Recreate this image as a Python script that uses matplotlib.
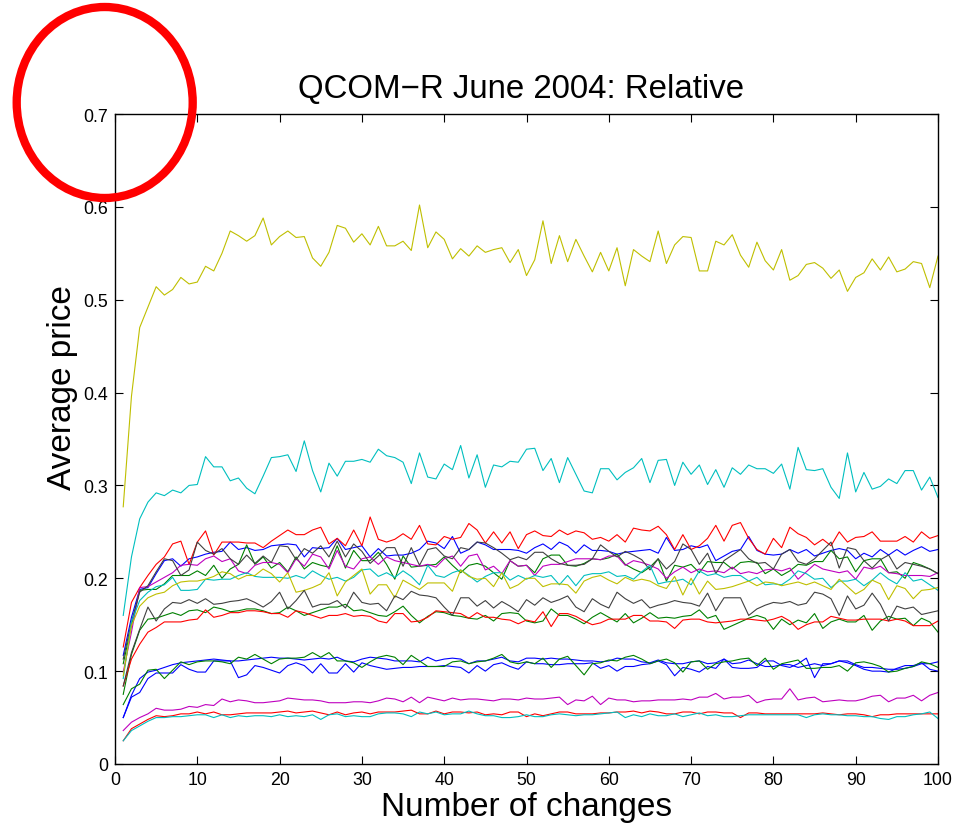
import numpy as np
import matplotlib
matplotlib.use("Agg")
import matplotlib.pyplot as plt
from matplotlib.patches import Ellipse

plt.rcParams['font.family'] = ['Liberation Sans', 'DejaVu Sans']

# values in thousandths, x = 1..100
blue1 = [117,158,188,190,205,219,221,213,221,223, 226,228,229,239,231,233,230,231,235,236,
         237,236,223,233,232,233,243,231,233,235, 223,232,224,225,225,227,231,240,238,232,
         245,227,231,239,236,231,231,231,230,227, 233,237,231,239,235,227,236,230,230,229,
         226,228,229,230,231,227,244,230,231,235, 233,236,219,224,229,231,245,230,226,225,
         226,231,227,231,224,227,230,232,230,221, 227,223,231,225,231,225,230,234,229,231]
green1 = [108,149,187,188,188,194,203,203,203,208, 203,214,200,210,215,236,215,223,211,217,
          207,223,210,217,214,212,235,211,230,219, 219,228,215,199,224,212,213,214,215,223,
          214,206,214,216,213,206,199,219,213,214, 206,221,225,225,214,213,216,221,220,222,
          226,215,210,206,212,221,197,214,212,215, 206,218,217,217,210,217,218,217,205,210,
          203,208,215,214,218,218,230,221,223,207, 219,221,221,206,207,200,217,214,210,205]
red1 = [126,174,190,203,215,223,237,240,215,239, 251,225,239,239,239,238,238,233,240,246,
        252,247,247,252,255,237,243,235,252,235, 266,242,239,242,248,242,257,237,236,245,
        242,244,259,252,238,250,238,250,232,247, 251,246,245,252,247,251,249,242,244,240,
        247,239,254,252,251,256,247,231,247,231, 235,243,257,240,257,260,243,231,226,243,
        233,255,248,244,236,242,235,250,239,244, 245,250,240,240,240,245,239,250,243,246]
cyan2 = [160,223,264,282,292,289,295,292,300,301, 331,320,320,305,308,297,291,310,330,331,
         333,315,348,316,293,324,310,326,326,328, 325,339,332,330,325,302,335,309,307,323,
         317,343,308,333,298,322,320,326,325,339, 340,316,329,303,330,312,294,292,318,318,
         306,314,319,329,303,327,328,300,325,312, 322,301,317,298,319,312,322,318,318,313,
         323,296,341,317,316,318,298,286,335,293, 314,296,299,307,302,316,316,295,309,287]
magenta1 = [99,142,190,191,196,201,206,214,215,214, 221,224,218,221,208,205,214,217,217,215,
            206,221,213,226,223,210,230,213,210,221, 223,215,223,219,217,215,213,215,212,221,
            224,213,224,226,209,213,205,219,213,214, 203,213,215,215,218,221,221,221,220,224,
            224,214,219,217,214,210,200,207,212,206, 210,207,208,206,212,205,207,205,209,210,
            208,211,199,207,215,210,208,206,208,199, 212,210,213,206,205,203,203,203,202,206]
yellow1 = [277,396,470,492,514,505,511,524,517,519, 536,531,550,574,569,563,569,588,559,568,
           574,567,568,545,536,551,580,577,562,571, 559,579,558,558,563,553,602,556,573,565,
           544,555,547,558,551,554,556,540,554,526, 543,585,539,569,541,565,547,530,551,531,
           556,515,554,547,541,574,539,559,568,567, 531,531,563,559,570,548,535,562,542,532,
           554,521,526,538,540,534,523,532,509,524, 529,544,532,546,530,533,541,539,513,547]
black1 = [113,153,185,192,207,221,219,203,209,239, 230,226,232,221,215,225,216,224,217,235,
          234,220,232,227,235,223,240,223,237,229, 216,224,233,233,213,233,214,231,233,224,
          221,233,231,239,238,233,227,220,223,220, 228,228,221,216,214,214,215,221,236,229,
          223,229,225,220,209,221,210,218,237,231, 215,227,205,219,225,231,221,216,217,210,
          226,231,218,215,221,230,239,211,233,231, 219,211,220,225,210,217,215,213,210,205]
blue2 = [50,74,92,99,101,104,107,109,110,111, 112,113,112,111,111,112,113,114,115,114,
         114,113,112,113,114,113,115,111,110,113, 115,114,113,111,111,111,110,115,111,113,
         114,113,108,111,111,113,115,111,110,114, 114,113,114,113,113,112,111,111,110,111,
         114,113,113,110,109,112,109,108,108,110, 111,108,109,113,108,109,112,108,105,105,
         107,107,104,106,108,106,108,111,111,107, 104,104,103,102,102,103,105,108,108,110]
green2 = [75,118,144,156,157,160,163,160,165,166, 163,169,167,164,165,167,167,165,162,163,
          169,165,160,163,166,169,169,172,165,166, 163,160,159,164,170,160,152,159,164,163,
          160,159,157,156,160,154,162,163,162,154, 152,154,167,160,160,156,151,158,163,158,
          153,162,152,157,163,157,158,157,159,160, 166,157,160,145,149,153,157,160,157,145,
          156,150,155,152,162,146,153,156,153,153, 160,144,154,159,156,157,149,157,153,142]
red2 = [84,113,129,142,147,153,153,153,155,156, 166,158,160,163,163,165,165,164,162,162,
        158,165,163,160,157,160,160,162,159,160, 159,154,152,162,162,153,154,158,165,164,
        163,162,157,163,158,158,156,155,151,155, 153,164,148,162,162,159,154,150,152,156,
        156,156,160,160,154,154,153,146,155,156, 156,153,152,153,154,156,156,155,154,156,
        159,154,145,150,153,153,159,157,155,155, 156,156,156,154,156,154,149,149,149,154]
cyan1 = [92,153,176,185,191,193,201,187,187,188, 199,198,199,199,203,206,202,201,201,201,
         200,203,200,208,203,199,201,197,201,209, 210,202,206,201,208,202,193,214,203,201,
         206,209,203,196,202,206,206,198,203,199, 203,201,203,193,203,192,203,205,205,207,
         202,203,199,207,214,194,196,197,199,193, 208,203,205,201,203,203,197,201,193,194,
         193,199,208,205,199,200,190,197,197,199, 192,198,206,199,194,206,197,199,193,187]
magenta2 = [36,45,50,54,60,58,58,59,62,61, 64,63,70,67,69,68,66,66,67,68,
            71,70,69,69,68,66,66,66,67,67, 66,68,71,70,67,72,66,72,70,68,
            71,69,70,70,69,68,70,70,69,71, 70,70,71,72,64,69,68,73,64,71,
            69,69,67,68,68,69,69,69,70,69, 72,72,76,70,72,72,74,66,69,70,
            70,81,69,71,72,67,68,69,68,68, 70,73,74,67,71,71,74,68,74,77]
yellow2 = [95,149,170,179,183,185,192,196,197,197, 199,202,207,205,199,203,203,210,205,196,
           206,185,187,190,194,206,181,196,203,210, 183,193,193,179,198,193,188,195,195,195,
           186,209,202,199,200,191,206,189,193,200, 200,191,194,194,193,184,197,201,203,198,
           194,201,197,199,197,192,189,202,182,200, 183,197,188,189,191,194,197,192,196,195,
           192,194,196,193,196,192,188,199,191,183, 188,198,194,177,192,189,178,187,188,190]
black2 = [84,120,145,169,154,167,174,173,177,173, 178,172,173,175,176,178,174,169,175,185,
          167,176,187,169,172,172,176,168,185,174, 172,173,165,181,177,186,182,181,179,169,
          160,179,179,170,176,168,175,170,164,177, 171,179,174,177,181,169,164,178,172,168,
          185,178,173,177,168,171,173,176,174,173, 170,184,165,179,179,179,160,167,171,174,
          173,175,171,173,185,183,178,160,181,167, 171,184,172,154,170,167,169,161,163,165]
blue3 = [50,72,77,92,98,98,98,107,102,99, 99,111,111,111,93,96,106,104,101,98,
         106,109,106,98,108,98,98,108,99,109, 106,104,102,103,104,104,105,105,105,106,
         105,104,98,106,100,107,109,105,102,110, 108,108,107,107,108,108,108,109,103,106,
         100,105,105,107,108,111,107,95,104,102, 99,105,103,113,104,103,103,104,111,111,
         106,104,108,114,93,108,108,111,109,106, 102,100,100,99,103,106,106,109,102,100]
green3 = [64,81,86,101,102,92,101,110,107,110, 111,111,110,108,115,113,118,113,108,113,
          114,114,115,120,115,120,111,111,109,104, 110,115,117,115,107,117,111,105,105,105,
          110,111,108,110,111,114,118,110,108,110, 108,114,104,113,116,106,96,108,109,112,
          111,115,117,113,108,111,113,109,99,110, 111,102,108,110,111,113,114,106,114,102,
          108,110,112,103,103,104,104,106,100,109, 110,108,105,99,100,103,105,110,108,104]
red3 = [25,38,43,48,52,51,52,54,54,56, 54,56,53,53,54,55,55,55,55,56,
        57,55,56,57,55,53,56,53,55,56, 54,56,56,56,57,58,54,54,57,54,
        56,56,55,56,53,54,53,56,56,51, 54,52,54,56,56,54,54,54,55,55,
        56,56,57,55,57,56,54,54,56,56, 54,56,56,55,55,50,55,55,54,54,
        54,54,54,54,54,55,54,53,54,54, 53,51,53,53,54,54,54,54,54,54]
cyan3 = [25,36,41,46,50,50,51,51,52,53, 53,50,53,50,52,51,52,52,51,53,
         51,52,51,53,48,53,54,51,52,51, 51,54,55,55,54,51,56,54,56,53,
         54,54,57,54,52,52,50,50,51,53, 51,51,53,54,53,52,53,53,54,55,
         56,50,53,51,54,52,52,54,51,53, 55,52,53,51,51,52,53,53,53,53,
         53,53,53,50,53,54,53,53,52,52, 51,51,49,48,51,51,53,54,56,49]

series = [blue1, green1, red1, cyan2, magenta1, yellow1, black1,
          blue2, green2, red2, cyan1, magenta2, yellow2, black2,
          blue3, green3, red3, cyan3]
color_order = [(0, 0, 1), (0, 0.5, 0), (1, 0, 0), (0, 0.75, 0.75),
               (0.75, 0, 0.75), (0.75, 0.75, 0), (0.25, 0.25, 0.25)]

title = "QCOM\u2212R June 2004: Relative"
xlabel = "Number of changes"
ylabel = "Average price"
xticks = list(range(0, 101, 10))
yticks = [0, 0.1, 0.2, 0.3, 0.4, 0.5, 0.6, 0.7]
ytick_labels = ["0", "0.1", "0.2", "0.3", "0.4", "0.5", "0.6", "0.7"]

W, H = 958, 828
fig = plt.figure(figsize=(W / 100, H / 100), dpi=100)
ax = fig.add_axes([115 / W, (H - 765) / H, 823 / W, 650 / H])

for i, s in enumerate(series):
    y = np.array(s) / 1000.0
    x = np.arange(1, len(y) + 1)
    ax.plot(x, y, color=color_order[i % 7], lw=0.8)

ax.set_xlim(0, 100)
ax.set_ylim(0, 0.7)
ax.set_xticks(xticks)
ax.set_xticklabels([str(t) for t in xticks])
ax.set_yticks(yticks)
ax.set_yticklabels(ytick_labels)
ax.tick_params(direction='in', length=6, width=0.8, top=True, right=True,
               labelsize=12.8, pad=5, colors='black')
for sp in ax.spines.values():
    sp.set_linewidth(1.0)
ax.set_title(title, fontsize=23.8, pad=12, x=0.494)
ax.set_xlabel(xlabel, fontsize=24, labelpad=2)
ax.set_ylabel(ylabel, fontsize=24, labelpad=4, y=0.58)

# red annotation circle in the top-left corner
circ = Ellipse((104.7 / W, 1 - 103.5 / H), 176 / W, 191 / H,
               transform=fig.transFigure, fill=False, ec='#ff0000', lw=6)
fig.add_artist(circ)

fig.savefig("out.png", dpi=100)
